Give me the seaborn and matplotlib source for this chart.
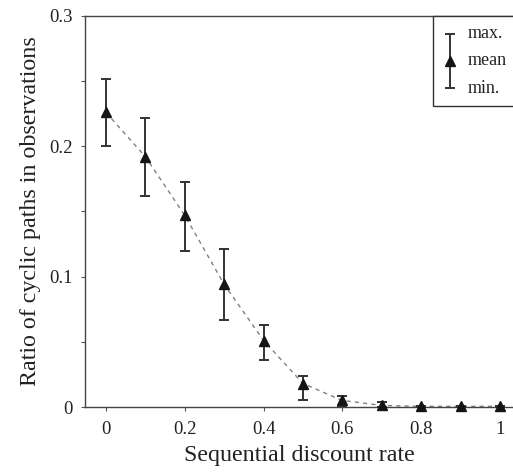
import numpy as np
import pandas as pd
import seaborn as sns
import matplotlib
matplotlib.use("Agg")
import matplotlib.pyplot as plt
from matplotlib.ticker import MultipleLocator, FuncFormatter
from matplotlib.legend_handler import HandlerErrorbar
from matplotlib.container import ErrorbarContainer

# values
rate = [0.0, 0.1, 0.2, 0.3, 0.4, 0.5, 0.6, 0.7, 0.8, 0.9, 1.0]
mean_ratio = [0.226, 0.192, 0.147, 0.094, 0.051, 0.018, 0.005, 0.0012, 0.0005, 0.0005, 0.0005]
max_ratio = [0.252, 0.222, 0.173, 0.121, 0.063, 0.024, 0.0085, 0.0038, 0.0009, 0.0007, 0.0007]
min_ratio = [0.200, 0.162, 0.120, 0.067, 0.036, 0.0054, 0.0005, 0.0, 0.0, 0.0, 0.0]

x_ticks = [0, 0.2, 0.4, 0.6, 0.8, 1.0]
y_ticks = [0, 0.1, 0.2, 0.3]

df = pd.DataFrame({"rate": rate, "mean": mean_ratio, "max": max_ratio, "min": min_ratio})

sns.set_theme(style="ticks")
plt.rcParams["font.family"] = ["Liberation Serif", "DejaVu Serif"]

fig = plt.figure(figsize=(5.13, 4.72), dpi=100)
ax = fig.add_axes([85 / 513, 65 / 472, 428 / 513, 391 / 472])

# dashed line through the means
sns.lineplot(data=df, x="rate", y="mean", ax=ax, color="#808080",
             linestyle=(0, (3, 3)), linewidth=1.0, zorder=1)

yerr = [df["mean"] - df["min"], df["max"] - df["mean"]]
eb = ax.errorbar(df["rate"], df["mean"], yerr=yerr, fmt="^", color="#151515",
                 ecolor="#333333", elinewidth=1.4, capsize=3.3, capthick=1.4,
                 markersize=7, zorder=3, clip_on=False)

ax.set_xlim(-0.0533, 1.033)
ax.set_ylim(0, 0.3)
ax.set_xticks(x_ticks)
ax.set_yticks(y_ticks)
ax.yaxis.set_minor_locator(MultipleLocator(0.05))
fmt = FuncFormatter(lambda v, p: f"{v:g}")
ax.xaxis.set_major_formatter(fmt)
ax.yaxis.set_major_formatter(fmt)

for side in ["left", "bottom", "top"]:
    ax.spines[side].set_color("#444444")
    ax.spines[side].set_linewidth(1.0)
ax.spines["right"].set_visible(False)

ax.tick_params(axis="both", which="both", direction="out", length=3,
               width=0.8, color="#555555", labelsize=13.5, labelcolor="#222222")
ax.tick_params(axis="x", pad=7)
ax.tick_params(axis="y", pad=6)

ax.set_xlabel("Sequential discount rate", fontsize=17.3, color="#222222", labelpad=5)
ax.set_ylabel("Ratio of cyclic paths in observations", fontsize=17.3,
              color="#222222", labelpad=6)

leg = ax.legend([eb], ["max.\nmean\nmin."], loc="upper left", mode="expand",
                bbox_to_anchor=((433 - 85) / 428, 0, 0.3, 1.0), fontsize=13,
                frameon=True, fancybox=False, framealpha=1, edgecolor="#333333",
                handlelength=0.85, handletextpad=0.55, borderpad=0.5,
                borderaxespad=0,
                handler_map={ErrorbarContainer: HandlerErrorbar(yerr_size=1.5)})
leg.get_frame().set_linewidth(1.0)
for t in leg.get_texts():
    t.set_linespacing(1.8)
    t.set_color("#222222")

fig.savefig("out.png", dpi=100)
